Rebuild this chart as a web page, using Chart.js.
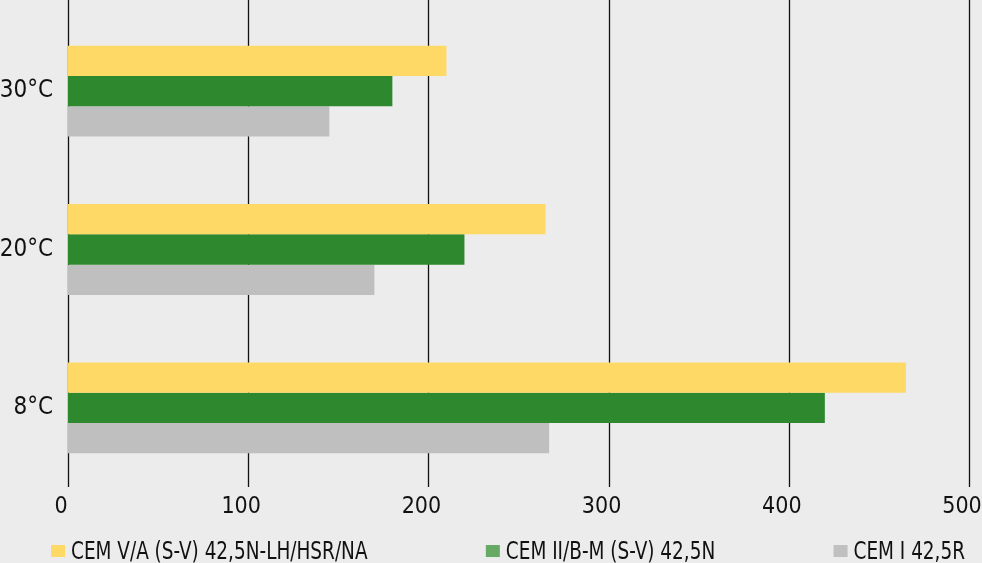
<!DOCTYPE html>
<html>
<head>
<meta charset="utf-8">
<script src="https://cdn.jsdelivr.net/npm/chart.js@4/dist/chart.umd.min.js"></script>
<style>
  html, body { margin: 0; padding: 0; background: #ececec; }
  #wrap { width: 982px; height: 563px; position: relative; }
</style>
</head>
<body>
<div id="wrap"><canvas id="c" width="982" height="563"></canvas></div>
<script>
// Temperatures (top to bottom)
const temperatures = ['30°C', '20°C', '8°C'];

// Cement series
const seriesNames = ['CEM V/A (S-V) 42,5N-LH/HSR/NA', 'CEM II/B-M (S-V) 42,5N', 'CEM I 42,5R'];
const cemV = [210, 265, 465];
const cemII = [180, 220, 420];
const cemI = [145, 170, 267];

// Value axis ticks
const axisTicks = [0, 100, 200, 300, 400, 500];

const FONT = '"Liberation Sans Narrow", "DejaVu Sans Condensed", "Liberation Sans", sans-serif';
const barColours = ['#ffd966', '#2e892e', '#bfbfbf'];
const keyColours = ['#ffd966', '#66aa66', '#c0c0c0'];

// Vertical grid lines running from the top edge down to the plot bottom
const fullHeightGrid = {
  id: 'fullHeightGrid',
  beforeDatasetsDraw(chart) {
    const { ctx, chartArea, scales } = chart;
    ctx.save();
    ctx.strokeStyle = '#111';
    ctx.lineWidth = 1.3;
    axisTicks.forEach(v => {
      const x = Math.round(scales.x.getPixelForValue(v)) + 0.5;
      ctx.beginPath();
      ctx.moveTo(x, 0);
      ctx.lineTo(x, chartArea.bottom);
      ctx.stroke();
    });
    ctx.restore();
  }
};

// One-row key along the bottom edge, spread between two margins,
// set in a horizontally compressed face
const spreadKey = {
  id: 'spreadKey',
  afterDraw(chart, args, opts) {
    const { ctx, width, height } = chart;
    const squeeze = opts.squeeze, box = opts.box, gapText = opts.gapText;
    ctx.save();
    ctx.font = opts.size + 'px ' + FONT;
    ctx.textBaseline = 'alphabetic';
    const items = chart.data.datasets.map((ds, i) => {
      const tw = ctx.measureText(ds.label).width * squeeze;
      return { text: ds.label, colour: keyColours[i], w: box + gapText + tw };
    });
    const total = items.reduce((s, it) => s + it.w, 0);
    const left = opts.left, right = width - opts.right;
    const gap = (right - left - total) / (items.length - 1);
    let x = left;
    const baseline = height - opts.bottom;
    items.forEach(it => {
      ctx.fillStyle = it.colour;
      ctx.fillRect(x, baseline - opts.boxRaise - opts.boxH, box, opts.boxH);
      ctx.save();
      ctx.translate(x + box + gapText, baseline);
      ctx.scale(squeeze, 1);
      ctx.fillStyle = '#111';
      ctx.fillText(it.text, 0, 0);
      ctx.restore();
      x += it.w + gap;
    });
    ctx.restore();
  }
};

new Chart(document.getElementById('c'), {
  type: 'bar',
  data: {
    labels: temperatures,
    datasets: [
      { label: seriesNames[0], data: cemV, backgroundColor: barColours[0] },
      { label: seriesNames[1], data: cemII, backgroundColor: barColours[1] },
      { label: seriesNames[2], data: cemI, backgroundColor: barColours[2] }
    ]
  },
  options: {
    indexAxis: 'y',
    responsive: false,
    animation: false,
    maintainAspectRatio: false,
    categoryPercentage: 0.574,
    barPercentage: 1.0,
    layout: { padding: { top: 12, right: 13, left: 0, bottom: 36 } },
    scales: {
      x: {
        min: 0,
        max: 500,
        afterBuildTicks(scale) { scale.ticks = axisTicks.map(v => ({ value: v })); },
        grid: { display: false, drawTicks: false },
        border: { display: false },
        ticks: { color: '#111', font: { family: FONT, size: 23 }, padding: 6, maxRotation: 0, labelOffset: -7 },
        afterFit(scale) {
          scale.height = 40;
          scale.paddingLeft = 0;
          scale.paddingRight = 0;
        }
      },
      y: {
        grid: { display: false, drawTicks: false },
        border: { display: false },
        ticks: { color: '#111', font: { family: FONT, size: 24 }, padding: 15 },
        afterFit(scale) {
          scale.width = 68;
          scale.paddingTop = 0;
          scale.paddingBottom = 0;
        }
      }
    },
    plugins: {
      tooltip: { enabled: false },
      legend: { display: false },
      spreadKey: {
        size: 25, squeeze: 0.82, box: 14, boxH: 12, boxRaise: 2,
        gapText: 6, left: 51, right: 17, bottom: 4
      }
    }
  },
  plugins: [fullHeightGrid, spreadKey]
});
</script>
</body>
</html>
